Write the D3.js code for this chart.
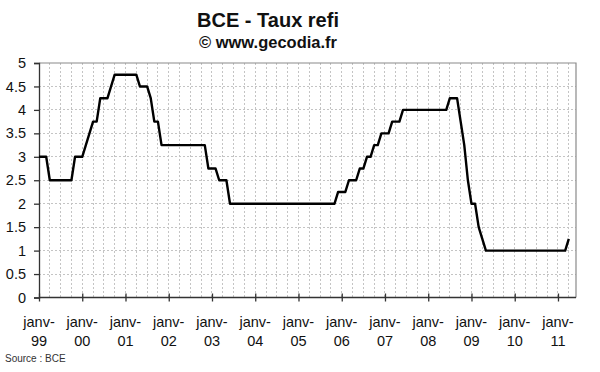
<!DOCTYPE html>
<html><head><meta charset="utf-8">
<script src="https://cdn.jsdelivr.net/npm/d3@7"></script>
<style>
body{margin:0;background:#fff;}
svg{display:block;font-family:"Liberation Sans",Arial,sans-serif;}
</style></head>
<body>
<svg id="chart" width="600" height="372"></svg>
<script>
// Monthly ECB refi rate, Jan 1999 .. Apr 2011
const rate1999 = [3, 3, 3, 2.5, 2.5, 2.5, 2.5, 2.5, 2.5, 2.5, 3, 3];
const rate2000 = [3, 3.25, 3.5, 3.75, 3.75, 4.25, 4.25, 4.25, 4.5, 4.75, 4.75, 4.75];
const rate2001 = [4.75, 4.75, 4.75, 4.75, 4.5, 4.5, 4.5, 4.25, 3.75, 3.75, 3.25, 3.25];
const rate2002 = [3.25, 3.25, 3.25, 3.25, 3.25, 3.25, 3.25, 3.25, 3.25, 3.25, 3.25, 2.75];
const rate2003 = [2.75, 2.75, 2.5, 2.5, 2.5, 2, 2, 2, 2, 2, 2, 2];
const rate2004 = [2, 2, 2, 2, 2, 2, 2, 2, 2, 2, 2, 2];
const rate2005 = [2, 2, 2, 2, 2, 2, 2, 2, 2, 2, 2, 2.25];
const rate2006 = [2.25, 2.25, 2.5, 2.5, 2.5, 2.75, 2.75, 3, 3, 3.25, 3.25, 3.5];
const rate2007 = [3.5, 3.5, 3.75, 3.75, 3.75, 4, 4, 4, 4, 4, 4, 4];
const rate2008 = [4, 4, 4, 4, 4, 4, 4.25, 4.25, 4.25, 3.75, 3.25, 2.5];
const rate2009 = [2, 2, 1.5, 1.25, 1, 1, 1, 1, 1, 1, 1, 1];
const rate2010 = [1, 1, 1, 1, 1, 1, 1, 1, 1, 1, 1, 1];
const rate2011 = [1, 1, 1, 1.25];
const yearLabels = ["99","00","01","02","03","04","05","06","07","08","09","10","11"];
const yTicks = [0, 0.5, 1, 1.5, 2, 2.5, 3, 3.5, 4, 4.5, 5];
const title = "BCE - Taux refi";
const subtitle = "© www.gecodia.fr";
const source = "Source : BCE";

const values = [].concat(rate1999, rate2000, rate2001, rate2002, rate2003, rate2004,
  rate2005, rate2006, rate2007, rate2008, rate2009, rate2010, rate2011);
const data = values.map((v, i) => ({i, v}));

const svg = d3.select("#chart");
const L = 39, R = 576, T = 63, B = 297.5;
const x = d3.scaleLinear().domain([0, 149]).range([L, R]);
const y = d3.scaleLinear().domain([0, 5]).range([B, T]);

// gridlines
const quarters = d3.range(3, 149, 3);
svg.append("g").selectAll("line").data(quarters).join("line")
  .attr("x1", d => x(d)).attr("x2", d => x(d)).attr("y1", T).attr("y2", B)
  .attr("stroke", "#c4c4c4").attr("stroke-width", 1).attr("stroke-dasharray", "2,2")
  .attr("shape-rendering", "crispEdges");
svg.append("g").selectAll("line").data(yTicks.slice(1, -1)).join("line")
  .attr("x1", L).attr("x2", R).attr("y1", d => y(d)).attr("y2", d => y(d))
  .attr("stroke", "#c4c4c4").attr("stroke-width", 1).attr("stroke-dasharray", "2,2")
  .attr("shape-rendering", "crispEdges");

// border top/right
svg.append("path").attr("d", `M${L},${T}H${R}V${B}`)
  .attr("fill", "none").attr("stroke", "#8a8a8a").attr("stroke-width", 1.2);

// y axis
const yAxis = d3.axisLeft(y).tickValues(yTicks).tickSize(5).tickPadding(8)
  .tickFormat(d => String(d));
const gy = svg.append("g").attr("transform", `translate(${L},0)`).call(yAxis);
gy.select(".domain").attr("stroke", "#333").attr("stroke-width", 1.3);
gy.selectAll(".tick line").attr("stroke", "#333").attr("stroke-width", 1.3);
gy.selectAll("text").attr("font-size", 14.5).attr("fill", "#111")
  .attr("font-family", "Liberation Sans, Arial, sans-serif");

// x axis
const jan = yearLabels.map((d, k) => k * 12);
const xAxis = d3.axisBottom(x).tickValues(jan).tickSize(4).tickFormat("");
const gx = svg.append("g").attr("transform", `translate(0,${B})`).call(xAxis);
gx.select(".domain").attr("stroke", "#333").attr("stroke-width", 1.3)
  .attr("d", `M${L},0H${R}`);
gx.selectAll(".tick line").attr("stroke", "#333").attr("stroke-width", 1.3)
  .attr("y1", -4).attr("y2", 4);
const lbl = svg.append("g").selectAll("text").data(jan).join("text")
  .attr("text-anchor", "middle").attr("font-size", 14.5).attr("fill", "#111");
lbl.append("tspan").attr("x", d => x(d)).attr("y", 326.5).text("janv-");
lbl.append("tspan").attr("x", d => x(d)).attr("y", 345.5).text((d, k) => yearLabels[k]);

// line
svg.append("path").datum(data)
  .attr("d", d3.line().x(d => x(d.i)).y(d => y(d.v)))
  .attr("fill", "none").attr("stroke", "#000").attr("stroke-width", 2.4)
  .attr("stroke-linejoin", "round");

// titles
svg.append("text").attr("x", 268).attr("y", 27).attr("text-anchor", "middle")
  .attr("font-size", 20).attr("font-weight", "bold").attr("fill", "#111").text(title);
svg.append("text").attr("x", 268).attr("y", 48).attr("text-anchor", "middle")
  .attr("font-size", 16.5).attr("font-weight", "bold").attr("fill", "#111").text(subtitle);
svg.append("text").attr("x", 5).attr("y", 362).attr("font-size", 10)
  .attr("fill", "#333").text(source);
</script>
</body></html>
